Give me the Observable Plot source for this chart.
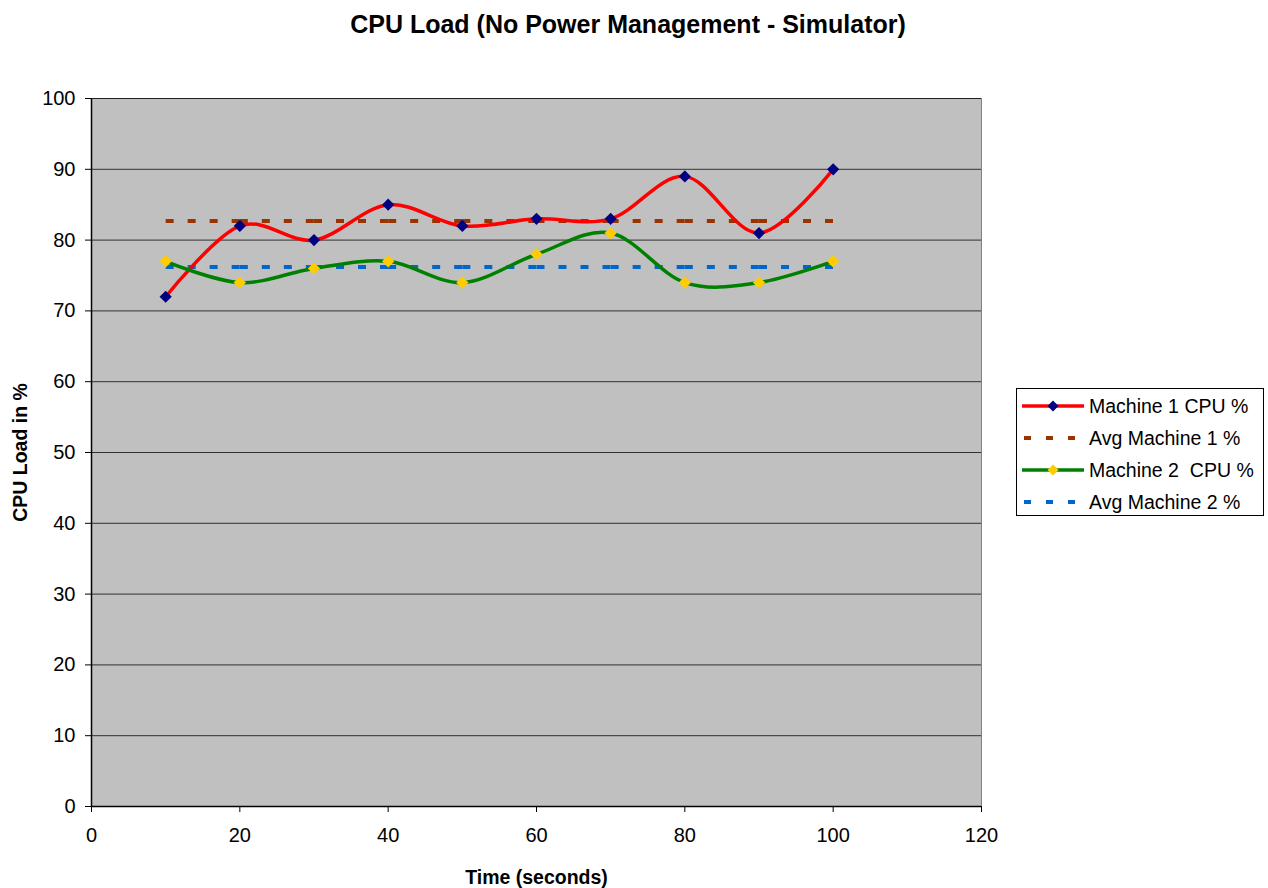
<!DOCTYPE html>
<html>
<head>
<meta charset="utf-8">
<script src="https://cdn.jsdelivr.net/npm/d3@7"></script>
<script src="https://cdn.jsdelivr.net/npm/@observablehq/plot@0.6"></script>
<style>
  html, body { margin: 0; padding: 0; background: #fff; }
  body { width: 1268px; height: 888px; position: relative; overflow: hidden; font-family: "Liberation Sans", Arial, sans-serif; }
  #title { position: absolute; left: 0; top: 9px; width: 1256px; text-align: center; font-weight: bold; font-size: 25px; line-height: 30px; color: #000; }
  #chart { position: absolute; left: 0; top: 50px; }
  #legend { position: absolute; left: 1016px; top: 388px; width: 248px; height: 128px; border: 1px solid #000; box-sizing: border-box; background: #fff; }
  .item { position: absolute; left: 0; height: 28px; display: flex; align-items: center; font-size: 19.5px; color: #000; }
  .item svg { margin-left: 4px; margin-right: 4px; }
</style>
</head>
<body>
<div id="title">CPU Load (No Power Management - Simulator)</div>
<div id="chart"></div>
<div id="legend"></div>
<script>
const times = [10, 20, 30, 40, 50, 60, 70, 80, 90, 100];
const machine1 = [72, 82, 80, 85, 82, 83, 83, 89, 81, 90];
const machine2 = [77, 74, 76, 77, 74, 78, 81, 74, 74, 77];
const avg1 = 82.7;
const avg2 = 76.2;
const xTicks = [0, 20, 40, 60, 80, 100, 120];
const yTicks = [0, 10, 20, 30, 40, 50, 60, 70, 80, 90, 100];
const seriesNames = ["Machine 1 CPU %", "Avg Machine 1 %", "Machine 2  CPU %", "Avg Machine 2 %"];
const colors = { m1: "#ff0000", m1mark: "#000080", a1: "#993300", m2: "#008000", m2mark: "#ffcc00", a2: "#0066cc" };

const m1 = times.map((t, i) => ({ t, v: machine1[i] }));
const m2 = times.map((t, i) => ({ t, v: machine2[i] }));
const segs = (avg) => times.slice(0, -1).map((t, i) => ({ x1: t, x2: times[i + 1], y: avg }));

const W = 1268, H = 838;
const chart = Plot.plot({
  width: W,
  height: H,
  marginLeft: 91,
  marginRight: 287,
  marginTop: 48,
  marginBottom: 82,
  style: { fontFamily: "Liberation Sans, Arial, sans-serif", fontSize: "20px", color: "#000", background: "transparent" },
  x: { domain: [0, 120], ticks: xTicks, label: null },
  y: { domain: [0, 100], ticks: yTicks, label: null },
  marks: [
    Plot.frame({ fill: "#c0c0c0", stroke: "#808080" }),
    Plot.ruleY(yTicks, { stroke: "#000", strokeWidth: 1, strokeOpacity: 0.75 }),
    Plot.ruleX([0], { stroke: "#000", strokeWidth: 1.5 }),
    Plot.ruleY([0], { stroke: "#000", strokeWidth: 1.5 }),
    Plot.axisX({ ticks: xTicks, tickSize: 6, tickPadding: 15, fontSize: 20, stroke: "#000" }),
    Plot.axisY({ ticks: yTicks, tickSize: 6, tickPadding: 10, fontSize: 20, stroke: "#000" }),
    Plot.link(segs(avg1), { x1: "x1", x2: "x2", y1: "y", y2: "y", stroke: colors.a1, strokeWidth: 4, strokeDasharray: "8,14", strokeLinecap: "butt" }),
    Plot.link(segs(avg2), { x1: "x1", x2: "x2", y1: "y", y2: "y", stroke: colors.a2, strokeWidth: 4, strokeDasharray: "8,14", strokeLinecap: "butt" }),
    Plot.line(m1, { x: "t", y: "v", stroke: colors.m1, strokeWidth: 3.5, curve: "cardinal" }),
    Plot.line(m2, { x: "t", y: "v", stroke: colors.m2, strokeWidth: 3.5, curve: "cardinal" }),
    Plot.dot(m1, { x: "t", y: "v", symbol: "diamond2", r: 5.5, fill: colors.m1mark, stroke: null }),
    Plot.dot(m2, { x: "t", y: "v", symbol: "diamond2", r: 5.5, fill: colors.m2mark, stroke: null }),
    Plot.text(["Time (seconds)"], { frameAnchor: "bottom", dy: 77, fontWeight: "bold", fontSize: 19.5, lineAnchor: "bottom" }),
    Plot.text(["CPU Load in %"], { frameAnchor: "left", dx: -71, rotate: -90, textAnchor: "middle", fontWeight: "bold", fontSize: 19.5 })
  ]
});
document.getElementById("chart").appendChild(chart);

// Legend
const legend = document.getElementById("legend");
const legendItems = [
  { name: seriesNames[0], color: colors.m1, dash: null, mark: colors.m1mark },
  { name: seriesNames[1], color: colors.a1, dash: "7,15", mark: null },
  { name: seriesNames[2], color: colors.m2, dash: null, mark: colors.m2mark },
  { name: seriesNames[3], color: colors.a2, dash: "7,15", mark: null }
];
legendItems.forEach((it, i) => {
  const div = document.createElement("div");
  div.className = "item";
  div.style.top = (3 + i * 32) + "px";
  const ns = "http://www.w3.org/2000/svg";
  const s = document.createElementNS(ns, "svg");
  s.setAttribute("width", 64); s.setAttribute("height", 14);
  const ln = document.createElementNS(ns, "line");
  ln.setAttribute("x1", it.dash ? 3 : 1); ln.setAttribute("x2", 63);
  ln.setAttribute("y1", 7); ln.setAttribute("y2", 7);
  ln.setAttribute("stroke", it.color); ln.setAttribute("stroke-width", it.dash ? 4 : 3.5);
  if (it.dash) ln.setAttribute("stroke-dasharray", it.dash);
  s.appendChild(ln);
  if (it.mark) {
    const p = document.createElementNS(ns, "path");
    p.setAttribute("d", "M32,1.5L37.5,7L32,12.5L26.5,7Z");
    p.setAttribute("fill", it.mark);
    s.appendChild(p);
  }
  div.appendChild(s);
  const t = document.createElement("span");
  t.textContent = it.name;
  t.style.whiteSpace = "pre";
  div.appendChild(t);
  legend.appendChild(div);
});
</script>
</body>
</html>
